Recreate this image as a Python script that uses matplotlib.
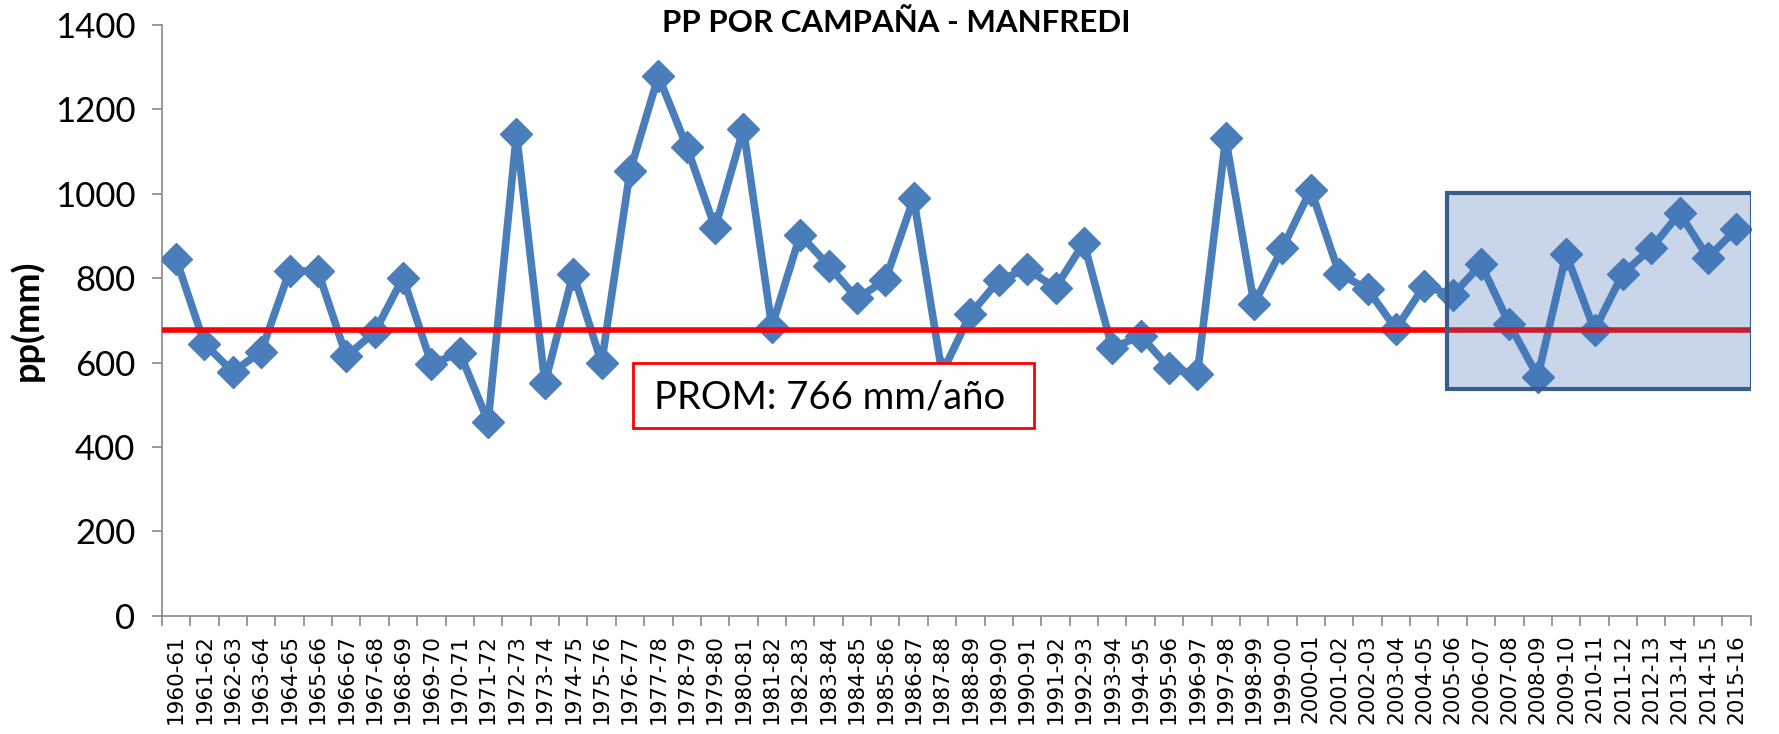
import numpy as np
import matplotlib.pyplot as plt
from matplotlib.patches import Rectangle

campanas = ["1960-61", "1961-62", "1962-63", "1963-64", "1964-65", "1965-66", "1966-67",
            "1967-68", "1968-69", "1969-70", "1970-71", "1971-72", "1972-73", "1973-74",
            "1974-75", "1975-76", "1976-77", "1977-78", "1978-79", "1979-80", "1980-81",
            "1981-82", "1982-83", "1983-84", "1984-85", "1985-86", "1986-87", "1987-88",
            "1988-89", "1989-90", "1990-91", "1991-92", "1992-93", "1993-94", "1994-95",
            "1995-96", "1996-97", "1997-98", "1998-99", "1999-00", "2000-01", "2001-02",
            "2002-03", "2003-04", "2004-05", "2005-06", "2006-07", "2007-08", "2008-09",
            "2009-10", "2010-11", "2011-12", "2012-13", "2013-14", "2014-15", "2015-16"]
pp = [846, 645, 578, 626, 817, 817, 615,
      672, 801, 597, 623, 460, 1142, 551,
      811, 599, 1053, 1279, 1112, 919, 1153,
      685, 903, 830, 752, 795, 989, 575,
      715, 795, 822, 777, 884, 634, 664,
      588, 572, 1131, 739, 871, 1010, 811,
      774, 680, 782, 760, 833, 691, 567,
      857, 677, 811, 871, 954, 849, 916]
linea_prom = 678
texto_prom = "PROM: 766 mm/año"

x = np.arange(len(campanas))

fig = plt.figure(figsize=(17.79, 7.34), dpi=100)
ax = fig.add_axes([0.091, 0.161, 0.893, 0.805])

ax.plot(x, pp, color="#4a7ebb", lw=5.5, marker="D", markersize=16, zorder=3)
ax.axhline(linea_prom, color="red", lw=4, zorder=4)

# recuadro ultimas campañas
ax.add_patch(Rectangle((44.8, 537), 10.75, 465, facecolor="#3f6fb5", alpha=0.28,
                       edgecolor="none", zorder=5))
ax.add_patch(Rectangle((44.8, 537), 10.75, 465, facecolor="none",
                       edgecolor="#385d8a", lw=3, zorder=6))

# cuadro del promedio
ax.add_patch(Rectangle((16.1, 446), 14.15, 153, facecolor="white",
                       edgecolor="red", lw=2, zorder=7))
ax.text(16.85, 518, texto_prom, fontsize=27.5, family="Lato", va="center", ha="left", zorder=8)

ax.set_xlim(-0.5, len(campanas) - 0.5)
ax.set_ylim(0, 1400)
ax.set_yticks(np.arange(0, 1401, 200))
ax.set_xticks(x)
ax.set_xticklabels(campanas, rotation=90, fontsize=15.5, family="DejaVu Sans")
ax.set_xticks(np.arange(-0.5, len(campanas)), minor=True)
ax.tick_params(axis="x", which="major", length=0, pad=13)
ax.tick_params(axis="x", which="minor", length=7, color="#888888", width=1.2)
ax.tick_params(axis="y", length=7, color="#888888", width=1.2, labelsize=25, pad=12)
for lab in ax.get_yticklabels():
    lab.set_family("Lato")
for s in ["top", "right"]:
    ax.spines[s].set_visible(False)
for s in ["left", "bottom"]:
    ax.spines[s].set_color("#888888")
    ax.spines[s].set_linewidth(1.2)

ax.set_ylabel("pp(mm)", fontsize=26, fontweight="bold", family="Lato", labelpad=8)
fig.text(0.504, 0.968, "PP POR CAMPAÑA - MANFREDI", fontsize=22.5, fontweight="bold",
         family="Lato", ha="center", va="center")

fig.savefig("out.png", dpi=100)
